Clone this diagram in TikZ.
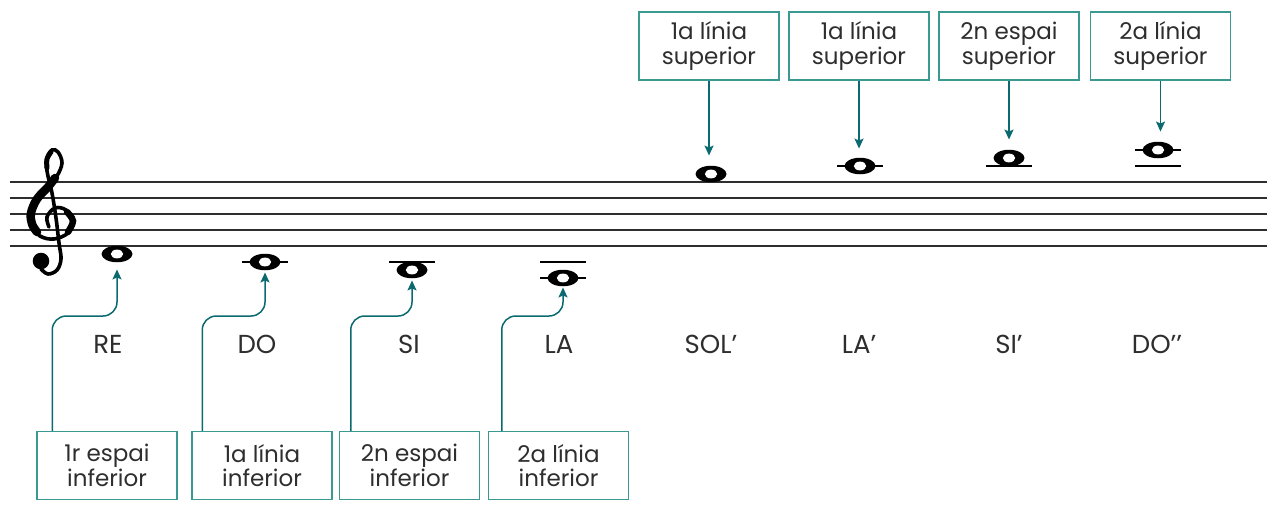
\documentclass[tikz,border=0pt]{standalone}
\usepackage{fontspec}
\setmainfont{Poppins}
\usetikzlibrary{arrows.meta,positioning,shapes.geometric}
\definecolor{boxteal}{HTML}{3A9A92}
\definecolor{arrowteal}{HTML}{0B6A70}
\definecolor{ink}{HTML}{2E2E2E}

\begin{document}
\begin{tikzpicture}[x=1pt,y=1pt]
\tikzset{
  lbl/.style={text=ink, font=\fontsize{26}{30}\selectfont},
  namebox/.style={rectangle, draw=boxteal, line width=1.5pt, minimum width=140pt, minimum height=68pt, inner sep=0pt, text=ink, align=center, font=\fontsize{23}{24.5}\selectfont},
  wnote/.style={ellipse, fill=black, minimum width=31pt, minimum height=16.5pt, inner sep=0pt,
    path picture={\fill[white, rotate around={25:(path picture bounding box.center)}] (path picture bounding box.center) ellipse (6.2pt and 4.4pt);}},
  connect/.style={arrowteal, line width=1.5pt, -{Stealth[length=10pt,width=9pt,inset=2pt]}},
  staffline/.style={ink, line width=1.8pt},
  ledger/.style={black, line width=2pt}
}
\useasboundingbox (0,0) rectangle (1273,-506);

% staff
\foreach \y in {182,198,214,230,246}
  \draw[staffline] (10,-\y) -- (1267,-\y);

% treble clef
\draw[black, line width=3.6pt, line cap=round] plot[smooth, tension=0.6] coordinates {
  (49,-227) (47,-217) (55,-208) (66,-210) (73,-221) (68,-233) (54,-239) (40,-236) (32,-225) (31,-213)
  (37,-199) (48,-187) (57,-176) (62,-163) (58,-152) (52,-150) (47,-158) (47,-171)
  (52,-193) (56,-218) (59,-243) (61,-259) (57,-270) (48,-274) (41,-269)};
\draw[black, line width=8.5pt, line cap=round] plot[smooth, tension=0.6] coordinates {
  (37,-232) (32,-224) (31,-213) (37,-199) (48,-187) (55,-178)};
\draw[black, line width=6.5pt, line cap=round] plot[smooth, tension=0.6] coordinates {
  (67,-212) (73,-221) (68,-232)};
\draw[black, line width=5pt, line cap=round] plot[smooth, tension=0.6] coordinates {
  (51,-152) (47,-159) (47,-168)};
\fill[black] (41,-261) circle (8.3);

% ledger lines
\draw[ledger] (242,-262) -- (288,-262);
\draw[ledger] (389,-262) -- (435,-262);
\draw[ledger] (540,-262) -- (586,-262);
\draw[ledger] (540,-278) -- (586,-278);
\draw[ledger] (837,-166) -- (883,-166);
\draw[ledger] (986,-166) -- (1032,-166);
\draw[ledger] (1135,-166) -- (1181,-166);
\draw[ledger] (1135,-150) -- (1181,-150);

% notes
\node[wnote] (re) at (117,-254) {};
\node[wnote] (do) at (265,-262) {};
\node[wnote] (si) at (412,-270) {};
\node[wnote] (la) at (563,-278) {};
\node[wnote] (sol2) at (711,-174) {};
\node[wnote] (la2) at (860,-166) {};
\node[wnote] (si2) at (1009,-158) {};
\node[wnote] (do3) at (1158,-150) {};

% note names
\node[lbl] (lre) at (108,-344) {RE};
\node[lbl] (ldo) at (257,-344) {DO};
\node[lbl] (lsi) at (409,-344) {SI};
\node[lbl] (lla) at (559,-344) {LA};
\node[lbl] (lsol2) at (711,-344) {SOL’};
\node[lbl] (lla2) at (859,-344) {LA’};
\node[lbl] (lsi2) at (1009,-344) {SI’};
\node[lbl] (ldo3) at (1157,-344) {DO’’};

% boxes
\node[namebox] (lb1) at (107,-465.5) {1r espai\\inferior};
\node[namebox] (lb2) at (262,-465.5) {1a línia\\inferior};
\node[namebox] (lb3) at (409.5,-465.5) {2n espai\\inferior};
\node[namebox] (lb4) at (558.5,-465.5) {2a línia\\inferior};
\node[namebox] (ub1) at (709,-46) {1a línia\\superior};
\node[namebox] (ub2) at (859,-46) {1a línia\\superior};
\node[namebox] (ub3) at (1009,-46) {2n espai\\superior};
\node[namebox] (ub4) at (1160.5,-46) {2a línia\\superior};

% connectors
\coordinate (elbow) at (0,-316);
\draw[connect, rounded corners=14] ([xshift=16]lb1.north west) |- (re.south |- elbow) -- ([yshift=-7]re.south);
\draw[connect, rounded corners=14] ([xshift=11]lb2.north west) |- (do.south |- elbow) -- ([yshift=-2]do.south);
\draw[connect, rounded corners=14] ([xshift=12]lb3.north west) |- (si.south |- elbow) -- ([yshift=-2]si.south);
\draw[connect, rounded corners=14] ([xshift=14]lb4.north west) |- (la.south |- elbow) -- ([yshift=-1]la.south);
\draw[connect, shorten >=10pt] (ub1.south) -- (ub1.south |- sol2.north);
\draw[connect, shorten >=9pt] (ub2.south) -- (ub2.south |- la2.north);
\draw[connect, shorten >=10pt] (ub3.south) -- (ub3.south |- si2.north);
\draw[connect, shorten >=10pt] (ub4.south) -- (ub4.south |- do3.north);
\end{tikzpicture}
\end{document}
